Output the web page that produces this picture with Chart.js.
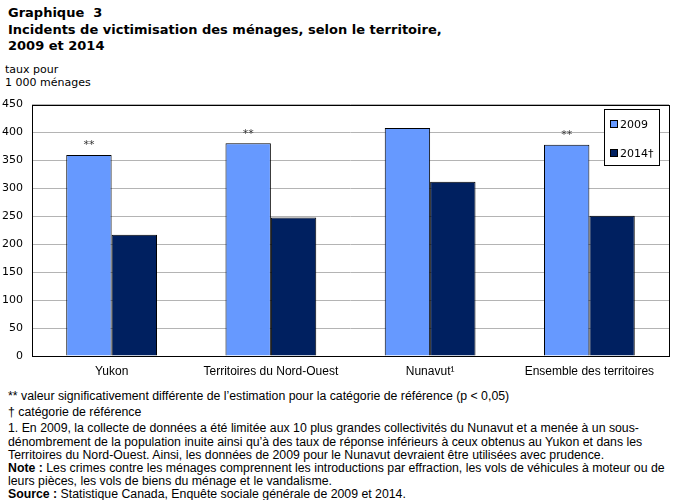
<!DOCTYPE html>
<html>
<head>
<meta charset="utf-8">
<script src="https://cdn.jsdelivr.net/npm/chart.js@4"></script>
<style>
  body { margin: 0; width: 676px; height: 500px; background: #fff; position: relative; overflow: hidden; }
  #title { position: absolute; left: 8px; top: 5px; font: bold 13px "DejaVu Sans", Verdana, sans-serif; line-height: 16.5px; color: #000; }
  #unit { position: absolute; left: 5px; top: 63px; font: 11px "DejaVu Sans", Verdana, sans-serif; line-height: 13px; color: #000; }
  #wrap { position: absolute; left: 0; top: 89px; width: 676px; height: 296px; }
  #notes { position: absolute; left: 8px; top: 390px; font: 12.3px "Liberation Sans", Arial, sans-serif; line-height: 13.2px; color: #000; white-space: nowrap; }
  #notes div.gap { margin-top: 3px; }
</style>
</head>
<body>
<div id="title">Graphique&nbsp; 3<br>Incidents de victimisation des ménages, selon le territoire,<br>2009 et 2014</div>
<div id="unit">taux pour<br>1 000 ménages</div>
<div id="wrap"><canvas id="chart" width="676" height="296"></canvas></div>
<div id="notes">
  <div>** valeur significativement différente de l’estimation pour la catégorie de référence (p &lt; 0,05)</div>
  <div class="gap">† catégorie de référence</div>
  <div class="gap">1. En 2009, la collecte de données a été limitée aux 10 plus grandes collectivités du Nunavut et a menée à un sous-<br>dénombrement de la population inuite ainsi qu’à des taux de réponse inférieurs à ceux obtenus au Yukon et dans les<br>Territoires du Nord-Ouest. Ainsi, les données de 2009 pour le Nunavut devraient être utilisées avec prudence.</div>
  <div><b>Note :</b> Les crimes contre les ménages comprennent les introductions par effraction, les vols de véhicules à moteur ou de<br>leurs pièces, les vols de biens du ménage et le vandalisme.</div>
  <div><b>Source :</b> Statistique Canada, Enquête sociale générale de 2009 et 2014.</div>
</div>
<script>
const categories = ['Yukon', 'Territoires du Nord-Ouest', 'Nunavut¹', 'Ensemble des territoires'];
const values2009 = [360, 381, 408, 378];
const values2014 = [217, 248, 312, 251];
const flags2009 = ['**', '**', '', '**'];
const seriesLabels = ['2009', '2014†'];
const yTicks = [0, 50, 100, 150, 200, 250, 300, 350, 400, 450];

const chartFont = '11px "DejaVu Sans", Verdana, sans-serif';

// asterisks above bars + frame around plot
const markPlugin = {
    id: 'marks',
    afterDatasetsDraw(chart) {
        const ctx = chart.ctx;
        const meta = chart.getDatasetMeta(0);
        ctx.save();
        ctx.fillStyle = '#333';
        ctx.font = chartFont;
        ctx.textAlign = 'center';
        ctx.textBaseline = 'bottom';
        meta.data.forEach((bar, i) => {
            if (flags2009[i])
                ctx.fillText(flags2009[i], bar.x, bar.y - 4);
        });
        const a = chart.chartArea;
        ctx.strokeStyle = '#000';
        ctx.lineWidth = 1;
        ctx.strokeRect(Math.round(a.left) + 0.5, Math.round(a.top) + 0.5, Math.round(a.right - a.left), Math.round(a.bottom - a.top));
        ctx.restore();
    }
};

// legend box inside top-right of plot
const legendPlugin = {
    id: 'boxLegend',
    afterDraw(chart) {
        const ctx = chart.ctx;
        const a = chart.chartArea;
        const x = Math.round(a.right) - 65, y = Math.round(a.top) + 4, w = 55, h = 56;
        ctx.save();
        ctx.fillStyle = '#fff';
        ctx.fillRect(x, y, w, h);
        ctx.strokeStyle = '#000';
        ctx.lineWidth = 1;
        ctx.strokeRect(x + 0.5, y + 0.5, w, h);
        ctx.font = chartFont;
        ctx.textBaseline = 'middle';
        chart.data.datasets.forEach((ds, i) => {
            const cy = y + 15 + i * 29;
            ctx.fillStyle = ds.backgroundColor;
            ctx.fillRect(x + 6, cy - 4, 8, 8);
            ctx.strokeStyle = '#000';
            ctx.strokeRect(x + 6.5, cy - 3.5, 7, 7);
            ctx.fillStyle = '#000';
            ctx.fillText(ds.label, x + 16, cy + 1);
        });
        ctx.restore();
    }
};

new Chart('chart', {
    type: 'bar',
    data: {
        labels: categories,
        datasets: [
            { label: seriesLabels[0], data: values2009, backgroundColor: '#6699ff', borderColor: '#000', borderWidth: 1 },
            { label: seriesLabels[1], data: values2014, backgroundColor: '#002060', borderColor: '#000', borderWidth: 1 }
        ]
    },
    options: {
        responsive: false,
        animation: false,
        layout: { padding: { top: 3, right: 7, left: 0, bottom: 0 } },
        plugins: { legend: { display: false }, tooltip: { enabled: false } },
        datasets: { bar: { barPercentage: 1, categoryPercentage: 0.57 } },
        scales: {
            x: {
                grid: { display: false, drawTicks: false },
                border: { display: false },
                ticks: { color: '#000', font: { family: '"Liberation Sans", Arial, sans-serif', size: 12 }, padding: 8, maxRotation: 0, autoSkip: false },
                afterFit(scale) { scale.height = 29; }
            },
            y: {
                min: 0, max: 450,
                afterBuildTicks(scale) { scale.ticks = yTicks.map(v => ({ value: v })); },
                grid: { color: '#b4b4b4', drawTicks: false },
                border: { display: false },
                ticks: { color: '#000', font: { family: '"DejaVu Sans", Verdana, sans-serif', size: 11 }, padding: 9 },
                afterFit(scale) { scale.width = 32; }
            }
        }
    },
    plugins: [markPlugin, legendPlugin]
});
</script>
</body>
</html>
